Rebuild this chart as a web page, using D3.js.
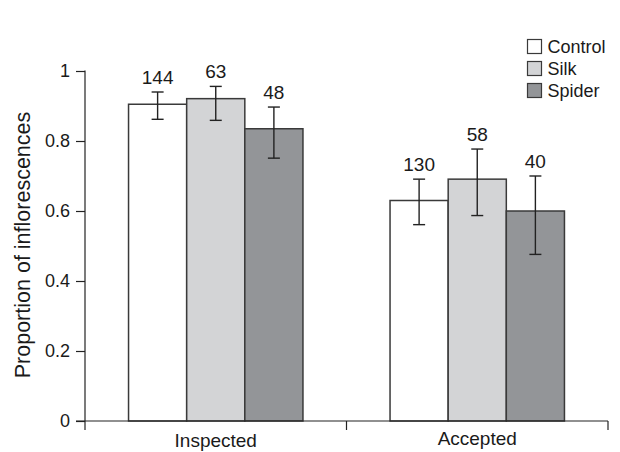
<!DOCTYPE html>
<html>
<head>
    <meta charset="utf-8">
    <script src="https://cdn.jsdelivr.net/npm/d3@7/dist/d3.min.js"></script>
    <style>
        body { margin: 0; background: #fff; font-family: "Liberation Sans", Arial, sans-serif; }
        svg { display: block; }
    </style>
</head>
<body>
<script>
    var groups = ["Inspected", "Accepted"];
    var treatments = ["Control", "Silk", "Spider"];
    var colors = ["#ffffff", "#d3d4d6", "#939598"];
    var means = [[0.905, 0.921, 0.835], [0.630, 0.691, 0.600]];
    var errLow = [[0.862, 0.859, 0.751], [0.561, 0.587, 0.476]];
    var errHigh = [[0.940, 0.956, 0.897], [0.691, 0.777, 0.700]];
    var counts = [[144, 63, 48], [130, 58, 40]];
    var yTicks = [0, 0.2, 0.4, 0.6, 0.8, 1];

    var width = 620, height = 452;
    var margin = {left: 85, right: 12, top: 71, bottom: 31};

    var svg = d3.select("body").append("svg")
        .attr("width", width)
        .attr("height", height);

    var x0 = d3.scaleBand().domain(groups)
        .range([margin.left, width - margin.right])
        .paddingInner(0).paddingOuter(0);
    var x1 = d3.scaleBand().domain(treatments)
        .range([0, x0.bandwidth() * 0.667]);
    var off = x0.bandwidth() * (1 - 0.667) / 2;
    var y = d3.scaleLinear().domain([0, 1]).range([height - margin.bottom, margin.top]);

    // y axis
    var yAxis = svg.append("g")
        .attr("transform", "translate(" + margin.left + ",0)")
        .call(d3.axisLeft(y).tickValues(yTicks).tickSize(9).tickPadding(6)
            .tickFormat(function (d) { return d === 0 || d === 1 ? d : d.toFixed(1); }));
    yAxis.selectAll("text").style("font-size", "18px").style("font-family", "Liberation Sans").attr("fill", "#1a1a1a");
    yAxis.selectAll("line,path").attr("stroke", "#222").attr("stroke-width", 1.2);
    yAxis.select("path").attr("d", "M0," + (margin.top - 0.5) + "V" + y(0));

    // bars
    var g = svg.selectAll("g.grp").data(groups).enter().append("g")
        .attr("class", "grp")
        .attr("transform", function (d) { return "translate(" + (x0(d) + off) + ",0)"; });

    g.each(function (grp, gi) {
        var sel = d3.select(this);
        treatments.forEach(function (t, ti) {
            var bx = x1(t);
            var cx = bx + x1.bandwidth() / 2;
            sel.append("rect")
                .attr("x", bx)
                .attr("y", y(means[gi][ti]))
                .attr("width", x1.bandwidth())
                .attr("height", y(0) - y(means[gi][ti]))
                .attr("fill", colors[ti])
                .attr("stroke", "#3a3a3a")
                .attr("stroke-width", 1.5);
            sel.append("line")
                .attr("x1", cx).attr("x2", cx)
                .attr("y1", y(errLow[gi][ti])).attr("y2", y(errHigh[gi][ti]))
                .attr("stroke", "#222").attr("stroke-width", 1.4);
            [errLow[gi][ti], errHigh[gi][ti]].forEach(function (v) {
                sel.append("line")
                    .attr("x1", cx - 6).attr("x2", cx + 6)
                    .attr("y1", y(v)).attr("y2", y(v))
                    .attr("stroke", "#222").attr("stroke-width", 1.4);
            });
            sel.append("text")
                .attr("x", cx)
                .attr("y", y(errHigh[gi][ti]) - 8)
                .attr("text-anchor", "middle")
                .style("font-size", "19px")
                .attr("fill", "#1a1a1a")
                .text(counts[gi][ti]);
        });
    });

    // x axis
    var xAxis = svg.append("g")
        .attr("transform", "translate(0," + y(0) + ")");
    xAxis.append("line")
        .attr("x1", margin.left - 9).attr("x2", width - margin.right)
        .attr("stroke", "#222").attr("stroke-width", 1.2);
    var bounds = [x0(groups[0]), x0(groups[1]), x0(groups[1]) + x0.bandwidth()];
    xAxis.selectAll("line.tk").data(bounds).enter().append("line")
        .attr("class", "tk")
        .attr("x1", function (d) { return d; }).attr("x2", function (d) { return d; })
        .attr("y1", 0).attr("y2", 9)
        .attr("stroke", "#222").attr("stroke-width", 1.2);
    xAxis.selectAll("text").data(groups).enter().append("text")
        .attr("x", function (d) { return x0(d) + x0.bandwidth() / 2; })
        .attr("y", function (d, i) { return i === 0 ? 26 : 24; })
        .attr("text-anchor", "middle")
        .style("font-size", "19px")
        .attr("fill", "#1a1a1a")
        .text(function (d) { return d; });

    // y label
    svg.append("text")
        .attr("transform", "translate(30," + ((y(0) + y(1)) / 2 - 1) + ") rotate(-90)")
        .attr("text-anchor", "middle")
        .style("font-size", "21.5px")
        .attr("fill", "#1a1a1a")
        .text("Proportion of inflorescences");

    // legend
    var leg = svg.append("g").attr("transform", "translate(527.5,39.5)");
    treatments.forEach(function (t, i) {
        leg.append("rect")
            .attr("x", 0).attr("y", i * 22)
            .attr("width", 14).attr("height", 14)
            .attr("fill", colors[i])
            .attr("stroke", "#3a3a3a").attr("stroke-width", 1.2);
        leg.append("text")
            .attr("x", 20).attr("y", i * 22 + 13.5)
            .style("font-size", "18px")
            .attr("fill", "#1a1a1a")
            .text(t);
    });
</script>
</body>
</html>
